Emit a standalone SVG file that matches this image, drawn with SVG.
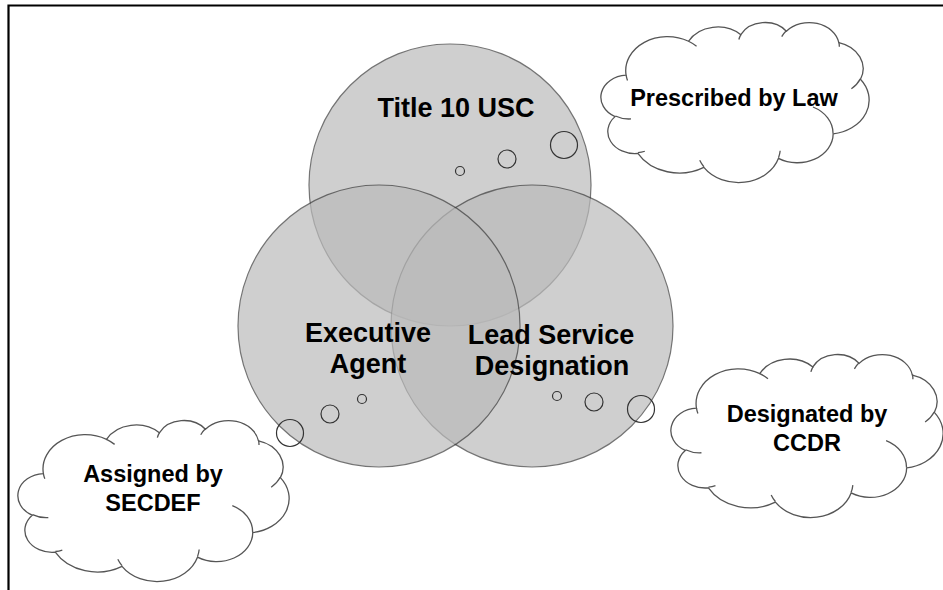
<svg xmlns="http://www.w3.org/2000/svg" xmlns:xlink="http://www.w3.org/1999/xlink" width="943" height="590" viewBox="0 0 943 590">
<style>
.venn{fill:#bbbbbb;stroke:#3a3a3a;stroke-width:1.2;opacity:0.7}
.bubble{fill:none;stroke:#333333;stroke-width:1.2}
.cloud-body{fill:#ffffff;stroke:#555555;stroke-width:1.3}
.cloud-hook{fill:none;stroke:#555555;stroke-width:1.3}
.big{font-family:"Liberation Sans",Arial,sans-serif;font-weight:bold;font-size:27px;text-anchor:middle;fill:#000}
.small{font-family:"Liberation Sans",Arial,sans-serif;font-weight:bold;font-size:23.5px;text-anchor:middle;fill:#000}
</style>
<defs>
<g id="cloudShape">
<path class="cloud-body" vector-effect="non-scaling-stroke" d="M3900,14370 A6753,9190 0 0 1 14005,5202 A5333,7267 0 0 1 22456,3432 A4365,5945 0 0 1 29833,2481 A4857,6595 0 0 1 38318,5576 A5333,7273 0 0 1 41819,15460 A6775,9220 0 0 1 37404,30204 A5785,7867 0 0 1 28556,36814 A6752,9215 0 0 1 16481,39265 A7720,10543 0 0 1 5805,35470 A4360,5918 0 0 1 2114,25548 A4345,5945 0 0 1 3900,14370 Z"/>
<path class="cloud-hook" vector-effect="non-scaling-stroke" d="M4693,26177 A4345,5945 0 0 1 2160,25380 M6928,34899 A4360,5918 0 0 1 5820,35281 M16478,39090 A6752,9215 0 0 1 15810,37350 M28827,34751 A6752,9215 0 0 1 28560,36660 M34129,22954 A5785,7867 0 0 1 37380,30090 M41798,15354 A5333,7273 0 0 1 40350,18030 M38324,5426 A4857,6595 0 0 1 38400,6690 M29078,3952 A4857,6595 0 0 1 29820,2340 M22141,4720 A4365,5945 0 0 1 22500,3330 M14000,5192 A6753,9190 0 0 1 15300,6540 M4127,15789 A6753,9190 0 0 1 3900,14370"/>
</g>
</defs>

<path id="frame" d="M8.5,590 V5.5 H943" fill="none" stroke="#000" stroke-width="2.2"/>

<g id="venn-circles">
<circle id="circle-title10" class="venn" cx="450" cy="185" r="141"/>
<circle id="circle-lead" class="venn" cx="532" cy="326" r="141"/>
<circle id="circle-exec" class="venn" cx="379" cy="326" r="141"/>
</g>

<g id="node-title10">
<circle class="bubble" cx="460" cy="171" r="4.5"/>
<circle class="bubble" cx="507" cy="159" r="9"/>
<circle class="bubble" cx="564" cy="145" r="13.5"/>
<text class="big" x="456" y="117">Title 10 USC</text>
</g>

<g id="node-exec">
<circle class="bubble" cx="362" cy="399" r="4.5"/>
<circle class="bubble" cx="330" cy="414" r="9"/>
<circle class="bubble" cx="290" cy="433" r="13.5"/>
<text class="big" x="368" y="342">Executive</text>
<text class="big" x="368" y="373">Agent</text>
</g>

<g id="node-lead">
<circle class="bubble" cx="557" cy="396" r="4.5"/>
<circle class="bubble" cx="594" cy="402" r="9"/>
<circle class="bubble" cx="641" cy="409" r="13.5"/>
<text class="big" x="551" y="344">Lead Service</text>
<text class="big" x="552" y="375">Designation</text>
</g>

<g id="cloud-prescribed">
<use xlink:href="#cloudShape" href="#cloudShape" transform="translate(602,22) scale(0.0061806,0.0037037)"/>
<text class="small" x="734" y="106">Prescribed by Law</text>
</g>

<g id="cloud-designated">
<use xlink:href="#cloudShape" href="#cloudShape" transform="translate(672,354) scale(0.0062731,0.0037731)"/>
<text class="small" x="807" y="422">Designated by</text>
<text class="small" x="807" y="451">CCDR</text>
</g>

<g id="cloud-assigned">
<use xlink:href="#cloudShape" href="#cloudShape" transform="translate(19,420) scale(0.00625,0.0037269)"/>
<text class="small" x="153" y="482">Assigned by</text>
<text class="small" x="153" y="511">SECDEF</text>
</g>
</svg>
